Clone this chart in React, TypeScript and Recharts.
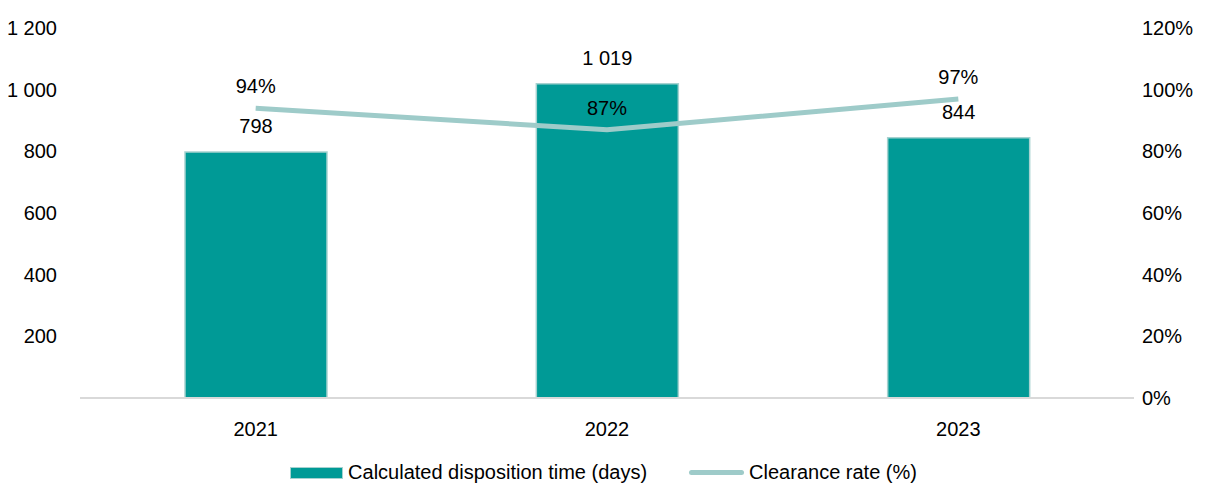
import React from 'react';
import { ComposedChart, Bar, Line, XAxis, YAxis, LabelList } from 'recharts';

const years = ['2021', '2022', '2023'];
const dispositionDays = [798, 1019, 844];
const clearanceRate = [94, 87, 97];
const leftTicks = [0, 200, 400, 600, 800, 1000, 1200];
const rightTicks = [0, 20, 40, 60, 80, 100, 120];

const FONT = '"Liberation Sans Narrow", "Arial Narrow", "Liberation Sans", Arial, sans-serif';
const BAR = '#009a96';
const LINE = '#9ecbc9';

const data = years.map((year, i) => ({
  year,
  days: dispositionDays[i],
  rate: clearanceRate[i],
}));

const fmtThousands = (v: number) => String(v).replace(/\B(?=(\d{3})+(?!\d))/g, ' ');

export default function App() {
  const tickStyle = { fill: '#000', fontSize: 20, fontFamily: FONT };
  return (
    <div style={{ position: 'absolute', left: 0, top: 0, width: 1207, height: 484, background: '#fff', fontFamily: FONT }}>
      <ComposedChart width={1207} height={484} data={data} margin={{ top: 28, right: 0, left: 0, bottom: 46 }}>
        <XAxis
          dataKey="year"
          height={40}
          tickLine={false}
          axisLine={{ stroke: '#d9d9d9', strokeWidth: 2 }}
          tick={tickStyle}
          tickMargin={18}
        />
        <YAxis
          yAxisId="left"
          orientation="left"
          width={80}
          domain={[0, 1200]}
          ticks={leftTicks}
          tickLine={false}
          axisLine={false}
          tick={tickStyle}
          tickMargin={17}
          tickFormatter={(v: number) => (v === 0 ? '' : fmtThousands(v))}
        />
        <YAxis
          yAxisId="right"
          orientation="right"
          width={73}
          domain={[0, 120]}
          ticks={rightTicks}
          tickLine={false}
          axisLine={false}
          tick={tickStyle}
          tickFormatter={(v: number) => `${v}%`}
        />
        <Bar yAxisId="left" dataKey="days" fill={BAR} stroke="#a6d2d0" strokeWidth={1.5} barSize={142} isAnimationActive={false}>
          <LabelList dataKey="days" position="top" offset={19} formatter={(v: any) => fmtThousands(Number(v))} style={{ fill: '#000', fontSize: 20, fontFamily: FONT }} />
        </Bar>
        <Line yAxisId="right" type="linear" dataKey="rate" stroke={LINE} strokeWidth={5} dot={false} activeDot={false} isAnimationActive={false}>
          <LabelList dataKey="rate" position="top" offset={15} formatter={(v: any) => `${v}%`} style={{ fill: '#000', fontSize: 20, fontFamily: FONT }} />
        </Line>
      </ComposedChart>
      <div style={{ position: 'absolute', left: 0, top: 461, width: 1207, display: 'flex', justifyContent: 'center', alignItems: 'center', fontSize: 20, color: '#000' }}>
        <span style={{ display: 'inline-block', width: 53, height: 12, background: BAR, border: '1px solid #a6d2d0', boxSizing: 'border-box', marginRight: 5 }} />
        <span>Calculated disposition time (days)</span>
        <span style={{ display: 'inline-block', width: 55, height: 5, background: LINE, borderRadius: 3, marginLeft: 42, marginRight: 5 }} />
        <span>Clearance rate (%)</span>
      </div>
    </div>
  );
}
